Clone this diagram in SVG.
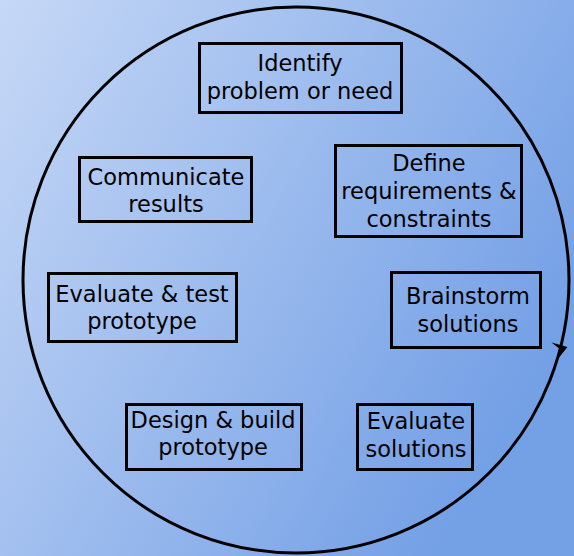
<svg xmlns="http://www.w3.org/2000/svg" width="574" height="556" viewBox="0 0 574 556">
<defs>
<linearGradient id="bg" x1="0" y1="0" x2="1" y2="0.55">
<stop offset="0" stop-color="#c6d8f6"/>
<stop offset="1" stop-color="#74a0e6"/>
</linearGradient>
<style>
.box{fill:none;stroke:#000;stroke-width:3}
.t{font-family:"DejaVu Sans",sans-serif;font-size:22.5px;fill:#000;text-anchor:middle}
.cyc{fill:none;stroke:#000;stroke-width:3}
</style>
</defs>
<rect width="574" height="556" fill="url(#bg)"/>
<g id="connectors">
<circle class="cyc" cx="296" cy="280" r="273"/>
<path d="M551.5,342.5 L567.5,347 L557,360 L560.5,349.5 Z" fill="#000"/>
</g>
<g id="identify">
<rect class="box" x="199.5" y="43.5" width="202" height="69"/>
<text class="t" x="300" y="71">Identify</text>
<text class="t" x="300" y="99">problem or need</text>
</g>
<g id="define">
<rect class="box" x="335.5" y="145.5" width="186" height="91"/>
<text class="t" x="429" y="171">Define</text>
<text class="t" x="429" y="199">requirements &amp;</text>
<text class="t" x="429" y="227">constraints</text>
</g>
<g id="brainstorm">
<rect class="box" x="391.5" y="272.5" width="149" height="75"/>
<text class="t" x="468" y="304">Brainstorm</text>
<text class="t" x="468" y="332">solutions</text>
</g>
<g id="communicate">
<rect class="box" x="79.5" y="157.5" width="172" height="64"/>
<text class="t" x="166" y="185">Communicate</text>
<text class="t" x="166" y="212">results</text>
</g>
<g id="evaltest">
<rect class="box" x="48.5" y="273.5" width="188" height="68"/>
<text class="t" x="142" y="302">Evaluate &amp; test</text>
<text class="t" x="142" y="329">prototype</text>
</g>
<g id="design">
<rect class="box" x="126.5" y="404.5" width="175" height="65"/>
<text class="t" x="213" y="428">Design &amp; build</text>
<text class="t" x="213" y="455">prototype</text>
</g>
<g id="evalsol">
<rect class="box" x="357.5" y="404.5" width="115" height="65"/>
<text class="t" x="416" y="429">Evaluate</text>
<text class="t" x="416" y="457">solutions</text>
</g>
</svg>
